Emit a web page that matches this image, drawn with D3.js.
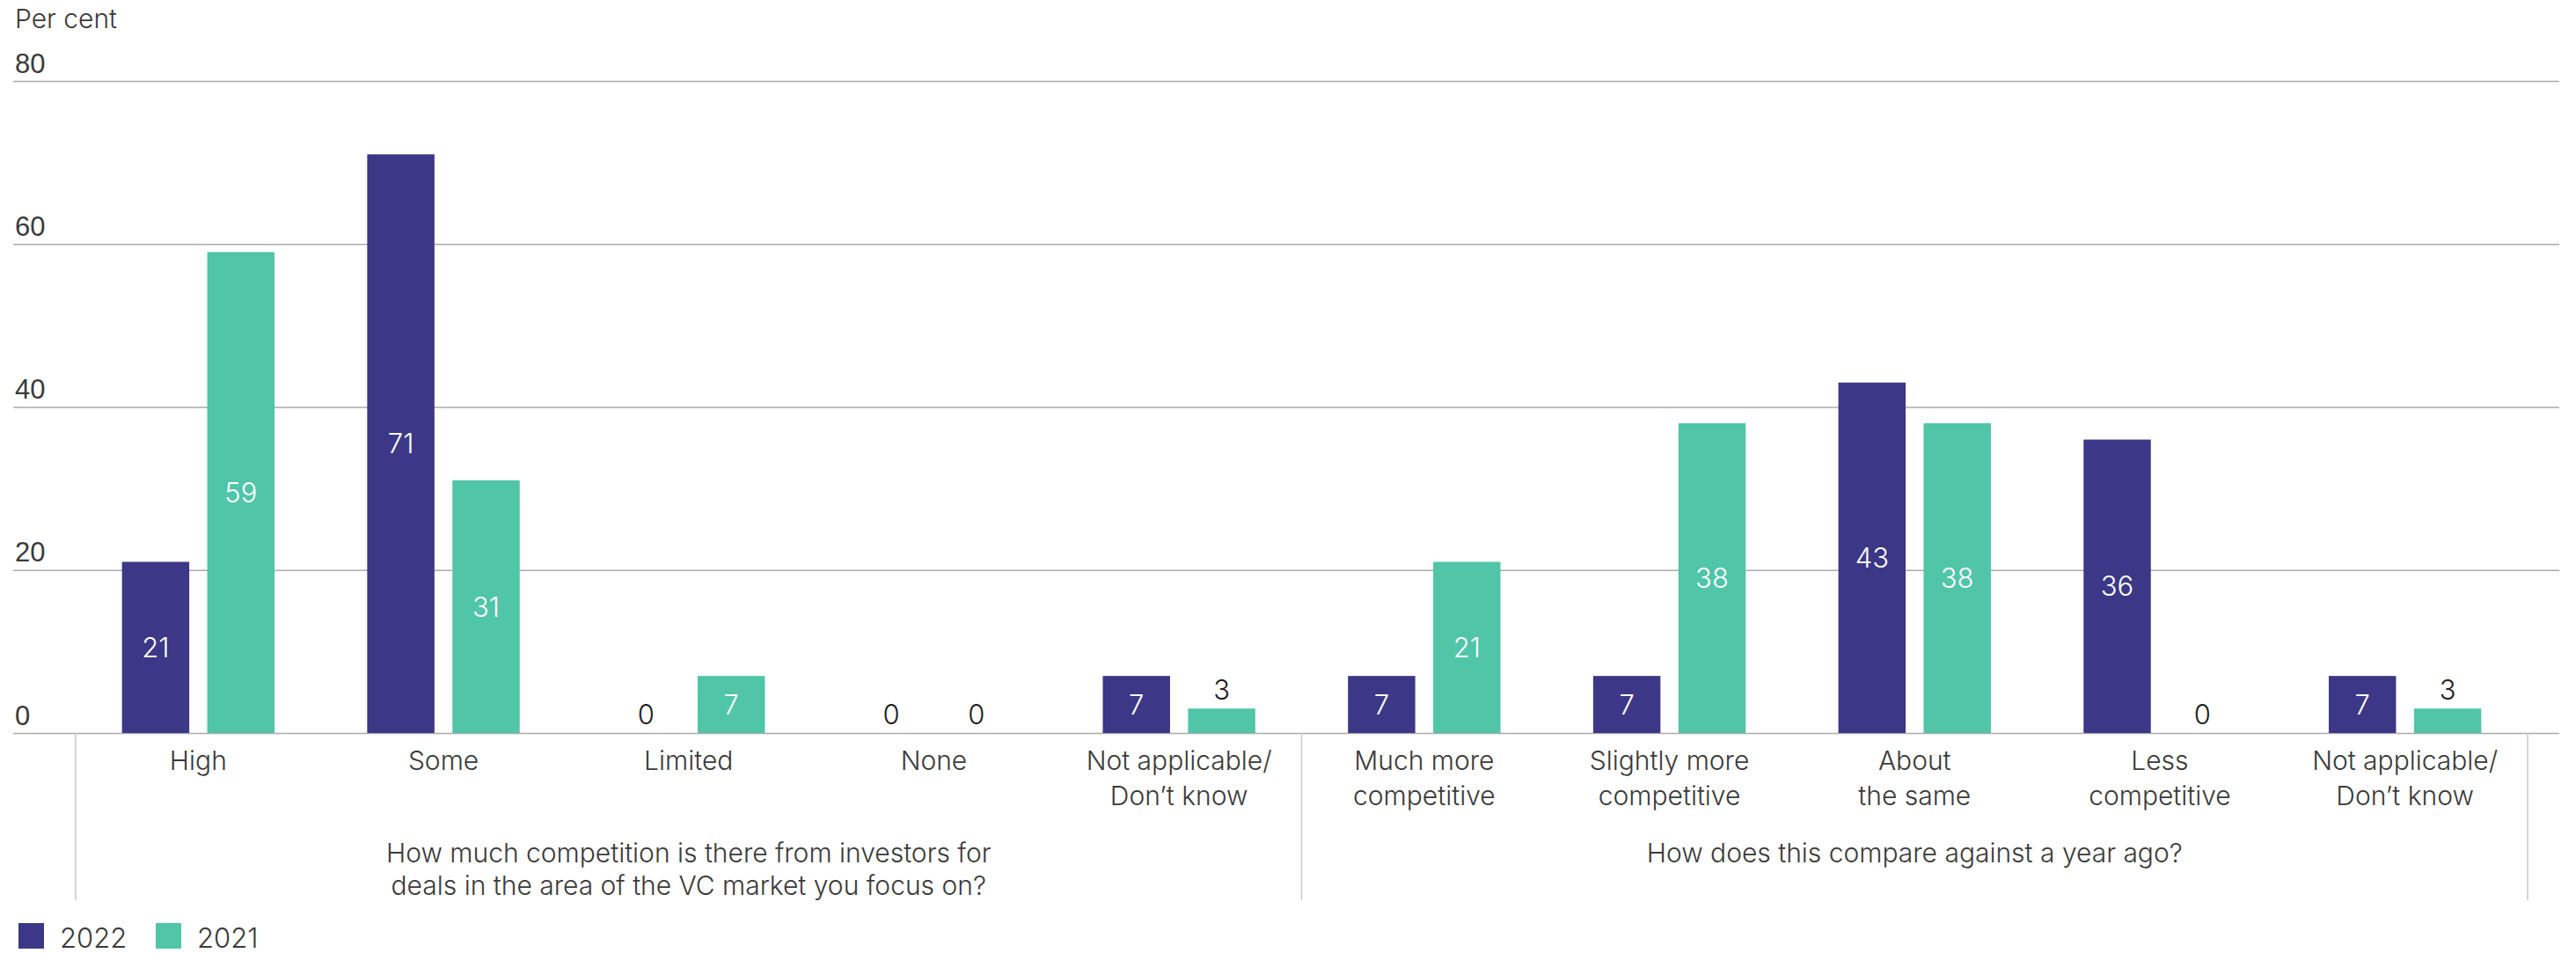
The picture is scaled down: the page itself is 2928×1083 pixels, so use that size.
<!DOCTYPE html>
<html>
<head>
    <style>
        body {
            margin: 0;
            background: #ffffff;
            font-family: Inter, "Open Sans", Roboto, sans-serif;
        }

        .tick line {
            stroke: #ababab;
            stroke-width: 1.5;
        }

        .domain {
            display: none;
        }

        .tick text {
            font-size: 31px;
            fill: #3a3a3a;
            font-weight: 300;
        }

        .cat-label, .group-title, .legend-text, .unit-label {
            fill: #3a3a3a;
            font-weight: 300;
        }
    </style>
</head>
<body>
    <div id="chart"></div>
    <script src="https://cdnjs.cloudflare.com/ajax/libs/d3/7.8.5/d3.min.js"></script>
    <script>
        // Data
        const categories = [
            "High", "Some", "Limited", "None", "Not applicable/\nDon\u2019t know",
            "Much more\ncompetitive", "Slightly more\ncompetitive", "About\nthe same",
            "Less\ncompetitive", "Not applicable/\nDon\u2019t know "
        ];
        const groupTitles = [
            "How much competition is there from investors for\ndeals in the area of the VC market you focus on?",
            "How does this compare against a year ago?"
        ];
        const groupSizes = [5, 5];
        const seriesNames = ["2022", "2021"];
        const values2022 = [21, 71, 0, 0, 7, 7, 7, 43, 36, 7];
        const values2021 = [59, 31, 7, 0, 3, 21, 38, 38, 0, 3];
        const yTicks = [0, 20, 40, 60, 80];

        const colors = { "2022": "#3c3786", "2021": "#50c5a8" };

        const W = 2928, H = 1083;
        const gridLeft = 15, gridRight = 2909;
        const plotLeft = 86, plotRight = 2873;
        const baseY = 833, topY = 92;

        const svg = d3.select("#chart")
            .append("svg")
            .attr("width", W)
            .attr("height", H);

        const x0 = d3.scaleBand()
            .domain(categories)
            .range([plotLeft, plotRight])
            .paddingInner(0)
            .paddingOuter(0);

        const step = x0.bandwidth();
        const pairWidth = step * 0.622;
        const x1 = d3.scaleBand()
            .domain(seriesNames)
            .range([(step - pairWidth) / 2, (step + pairWidth) / 2])
            .paddingInner(0.211);

        const y = d3.scaleLinear()
            .domain([0, 80])
            .range([baseY, topY]);

        // Gridlines + y labels
        const yAxis = d3.axisLeft(y)
            .tickValues(yTicks)
            .tickSize(-(gridRight - gridLeft))
            .tickFormat(d3.format("d"));

        const yg = svg.append("g")
            .attr("transform", `translate(${gridLeft},0)`)
            .call(yAxis);

        yg.selectAll(".tick text")
            .attr("x", 2)
            .attr("dy", -10)
            .attr("text-anchor", "start");

        svg.append("text")
            .attr("class", "unit-label")
            .attr("x", gridLeft + 2)
            .attr("y", 32)
            .style("font-size", "30px")
            .text("Per cent");

        // Bars
        const rows = categories.map((c, i) => ({
            cat: c,
            vals: [
                { key: "2022", v: values2022[i] },
                { key: "2021", v: values2021[i] }
            ]
        }));

        const catG = svg.selectAll(".cat")
            .data(rows)
            .enter()
            .append("g")
            .attr("class", "cat")
            .attr("transform", d => `translate(${x0(d.cat)},0)`);

        catG.selectAll("rect")
            .data(d => d.vals)
            .enter()
            .append("rect")
            .attr("x", d => x1(d.key))
            .attr("width", x1.bandwidth())
            .attr("y", d => y(d.v))
            .attr("height", d => baseY - y(d.v))
            .attr("fill", d => colors[d.key]);

        // Value labels
        catG.selectAll(".val")
            .data(d => d.vals)
            .enter()
            .append("text")
            .attr("class", "val")
            .attr("x", d => x1(d.key) + x1.bandwidth() / 2)
            .attr("y", d => d.v >= 7 ? (y(d.v) + baseY) / 2 : y(d.v) - 10)
            .attr("dy", d => d.v >= 7 ? "0.36em" : 0)
            .attr("text-anchor", "middle")
            .style("font-size", "31px")
            .style("font-weight", 300)
            .attr("fill", d => d.v >= 7 ? "#ffffff" : "#1e1e1e")
            .text(d => d.v);

        // Category labels
        const catLabels = catG.append("text")
            .attr("class", "cat-label")
            .attr("text-anchor", "middle")
            .style("font-size", "30px")
            .attr("x", step / 2)
            .attr("y", 875);

        catLabels.selectAll("tspan")
            .data(d => d.cat.trim().split("\n"))
            .enter()
            .append("tspan")
            .attr("x", step / 2)
            .attr("dy", (d, i) => i === 0 ? 0 : 40)
            .text(d => d);

        // Group dividers and titles
        let start = 0;
        const dividers = [categories[0]];
        const groups = groupTitles.map((t, gi) => {
            const first = categories[start];
            const last = categories[start + groupSizes[gi] - 1];
            start += groupSizes[gi];
            return { title: t, x0: x0(first), x1: x0(last) + step };
        });

        const divX = [groups[0].x0].concat(groups.map(g => g.x1));
        svg.selectAll(".divider")
            .data(divX)
            .enter()
            .append("line")
            .attr("class", "divider")
            .attr("x1", d => d)
            .attr("x2", d => d)
            .attr("y1", baseY)
            .attr("y2", 1023)
            .attr("stroke", "#c8c8c8")
            .attr("stroke-width", 1.5);

        const titles = svg.selectAll(".group-title")
            .data(groups)
            .enter()
            .append("text")
            .attr("class", "group-title")
            .attr("text-anchor", "middle")
            .style("font-size", "30px")
            .attr("y", 980);

        titles.selectAll("tspan")
            .data(d => d.title.split("\n").map(t => ({ t, cx: (d.x0 + d.x1) / 2 })))
            .enter()
            .append("tspan")
            .attr("x", d => d.cx)
            .attr("dy", (d, i) => i === 0 ? 0 : 37)
            .text(d => d.t);

        // Legend
        const legend = svg.append("g")
            .attr("transform", "translate(21,1049)");

        const li = legend.selectAll(".legend-item")
            .data(seriesNames)
            .enter()
            .append("g")
            .attr("class", "legend-item")
            .attr("transform", (d, i) => `translate(${i * 156},0)`);

        li.append("rect")
            .attr("width", 29)
            .attr("height", 29)
            .attr("fill", d => colors[d]);

        li.append("text")
            .attr("class", "legend-text")
            .attr("x", 47)
            .attr("y", 28)
            .style("font-size", "31px")
            .text(d => d);
    </script>
</body>
</html>
